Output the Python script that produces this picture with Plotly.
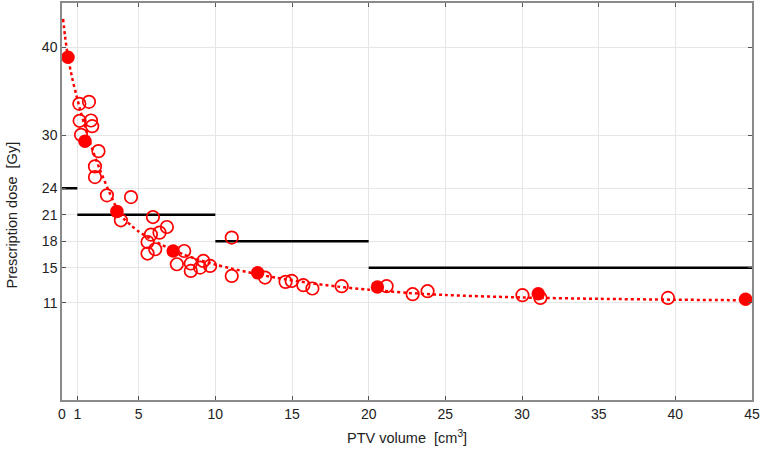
import plotly.graph_objects as go

# Open circles (individual cases)
open_x = [1.13, 1.76, 1.15, 1.89, 1.97, 1.24, 2.38, 2.15, 2.15, 2.93, 4.50, 3.84,
          5.93, 6.84, 6.36, 5.80, 5.58, 6.08, 5.58, 7.97, 7.49, 8.40, 8.40, 9.01,
          9.22, 9.66, 11.07, 11.07, 13.24, 14.58, 14.98, 15.74, 16.33, 18.24,
          21.17, 22.87, 23.84, 30.03, 31.20, 39.52]
open_y = [33.57, 33.80, 31.65, 31.68, 31.04, 30.06, 28.21, 26.48, 25.27, 23.20, 23.00, 20.37,
          20.74, 19.61, 18.97, 18.75, 17.91, 17.09, 16.60, 16.89, 15.39, 15.47, 14.63, 15.01,
          15.76, 15.20, 18.41, 14.06, 13.88, 13.39, 13.50, 13.01, 12.64, 12.90,
          12.90, 11.99, 12.33, 11.88, 11.57, 11.57]

# Filled circles
filled_x = [0.39, 1.50, 3.58, 7.25, 12.76, 20.57, 31.06, 44.58]
filled_y = [38.84, 29.34, 21.38, 16.88, 14.43, 12.81, 12.05, 11.43]

# Fitted curve
fit_x = [0.07, 0.2, 0.39, 0.65, 0.93, 1.2, 1.5, 2.0, 2.5, 3.0, 3.58, 4.0, 4.5, 5.0,
         5.5, 6.0, 6.5, 7.25, 8.0, 9.0, 10.0, 11.0, 12.5, 14.0, 16.0, 18.0, 20.0,
         22.5, 25.0, 30.0, 35.0, 40.0, 45.0]
fit_y = [43.2, 41.2, 38.9, 36.6, 34.6, 32.8, 31.0, 28.3, 26.0, 23.9, 21.7, 20.6, 19.8, 19.1,
         18.55, 18.05, 17.6, 17.0, 16.45, 15.85, 15.35, 14.92, 14.35, 13.85, 13.3, 12.85, 12.5,
         12.15, 11.9, 11.62, 11.47, 11.37, 11.3]

# Threshold steps
step_x0 = [0, 1, 10, 20]
step_x1 = [1, 10, 20, 45]
step_y = [24, 21, 18, 15]

x_ticks = [0, 1, 5, 10, 15, 20, 25, 30, 35, 40, 45]
y_ticks = [11, 15, 18, 21, 24, 30, 40]

FONT = "Liberation Sans, Arial, sans-serif"

fig = go.Figure()

sx, sy = [], []
for a, b, v in zip(step_x0, step_x1, step_y):
    sx += [a, b, None]
    sy += [v, v, None]
fig.add_trace(go.Scatter(x=sx, y=sy, mode="lines",
                         line=dict(color="black", width=2.5), showlegend=False))

fig.add_trace(go.Scatter(x=fit_x, y=fit_y, mode="lines",
                         line=dict(color="#ff0000", width=2.5, dash="dot", shape="spline", smoothing=0.8),
                         showlegend=False))

fig.add_trace(go.Scatter(x=open_x, y=open_y, mode="markers",
                         marker=dict(symbol="circle-open", size=12.5, color="#ff0000",
                                     line=dict(width=1.7, color="#ff0000")),
                         showlegend=False))

fig.add_trace(go.Scatter(x=filled_x, y=filled_y, mode="markers",
                         marker=dict(symbol="circle", size=13.5, color="#ff0000"),
                         showlegend=False))

axis_common = dict(
    showgrid=True, gridcolor="#e6e6e6", gridwidth=1,
    showline=True, linecolor="#8a8a8a", linewidth=1.5, mirror="allticks",
    ticks="inside", ticklen=4, tickcolor="#555555", tickwidth=1,
    zeroline=False, automargin=False,
    tickfont=dict(family=FONT, size=14, color="#222222"),
)

fig.update_xaxes(range=[0, 45], tickvals=x_ticks, ticktext=[str(t) for t in x_ticks], **axis_common)
fig.update_yaxes(range=[0, 45], tickvals=y_ticks, ticktext=[str(t) for t in y_ticks], **axis_common)

fig.add_annotation(text="PTV volume&nbsp; [cm<sup>3</sup>]", xref="paper", yref="paper",
                   x=0.5, y=0, yshift=-37, showarrow=False, xanchor="center", yanchor="middle",
                   font=dict(family=FONT, size=14.5, color="#222222"))
fig.add_annotation(text="Prescription dose&nbsp; [Gy]", xref="paper", yref="paper",
                   x=0, y=0.5, xshift=-51, yshift=-14, showarrow=False, textangle=-90,
                   xanchor="center", yanchor="middle",
                   font=dict(family=FONT, size=14.5, color="#222222"))

fig.update_layout(
    width=761, height=451,
    margin=dict(l=62, r=9, t=3, b=51),
    plot_bgcolor="white", paper_bgcolor="white",
    showlegend=False,
)

fig.write_html("out.html", config={"displayModeBar": False},
               post_script="document.body.style.margin='0';document.body.style.overflow='hidden';")
